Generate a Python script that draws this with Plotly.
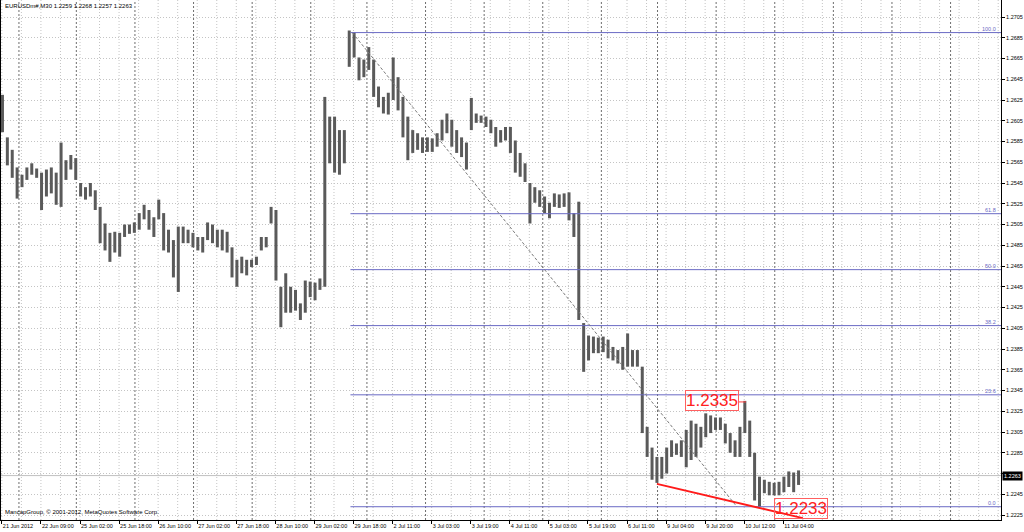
import plotly.graph_objects as go

# ---------------- data (EURUSD M30, 2-hour blocks of 4 bars) ----------------
highs = [
    1.2630, 1.2589, 1.2577, 1.2560, 1.2553, 1.2560, 1.2564, 1.2559, 1.2555, 1.2558,
    1.2560, 1.2555, 1.2584, 1.2567, 1.2572, 1.2569, 1.2545, 1.2541, 1.2545, 1.2538,
    1.2522, 1.2506, 1.2497, 1.2498, 1.2497, 1.2505, 1.2505, 1.2507, 1.2516, 1.2524,
    1.2519, 1.2512, 1.2529, 1.2516, 1.2500, 1.2490, 1.2503, 1.2503, 1.2500, 1.2497,
    1.2493, 1.2493, 1.2507, 1.2505, 1.2500, 1.2500, 1.2498, 1.2483, 1.2471, 1.2474,
    1.2471, 1.2471, 1.2474, 1.2493, 1.2493, 1.2522, 1.2519, 1.2445, 1.2458, 1.2445,
    1.2442, 1.2429, 1.2451, 1.2450, 1.2449, 1.2453, 1.2628, 1.2609, 1.2609, 1.2596,
    1.2596, 1.2692, 1.2690, 1.2666, 1.2664, 1.2676, 1.2664, 1.2638, 1.2628, 1.2632,
    1.2666, 1.2647, 1.2628, 1.2609, 1.2596, 1.2593, 1.2589, 1.2589, 1.2588, 1.2593,
    1.2606, 1.2612, 1.2606, 1.2596, 1.2589, 1.2584, 1.2627, 1.2612, 1.2610, 1.2609,
    1.2606, 1.2599, 1.2596, 1.2599, 1.2599, 1.2586, 1.2574, 1.2564, 1.2545, 1.2541,
    1.2538, 1.2532, 1.2526, 1.2535, 1.2534, 1.2535, 1.2536, 1.2516, 1.2527, 1.2410,
    1.2398, 1.2397, 1.2396, 1.2397, 1.2394, 1.2387, 1.2384, 1.2387, 1.2400, 1.2384,
    1.2384, 1.2368, 1.2310, 1.2290, 1.2281, 1.2281, 1.2290, 1.2297, 1.2294, 1.2297,
    1.2307, 1.2316, 1.2313, 1.2310, 1.2323, 1.2321, 1.2319, 1.2319, 1.2313, 1.2304,
    1.2297, 1.2310, 1.2335, 1.2316, 1.2285, 1.2262, 1.2259, 1.2257, 1.2256, 1.2257,
    1.2262, 1.2267, 1.2266, 1.2268,
]
lows = [
    1.2594, 1.2562, 1.2550, 1.2530, 1.2541, 1.2548, 1.2553, 1.2550, 1.2519, 1.2532,
    1.2535, 1.2524, 1.2522, 1.2548, 1.2558, 1.2548, 1.2532, 1.2529, 1.2532, 1.2519,
    1.2487, 1.2480, 1.2469, 1.2478, 1.2474, 1.2493, 1.2496, 1.2497, 1.2500, 1.2510,
    1.2500, 1.2493, 1.2510, 1.2480, 1.2478, 1.2454, 1.2440, 1.2487, 1.2487, 1.2483,
    1.2480, 1.2478, 1.2490, 1.2487, 1.2483, 1.2480, 1.2478, 1.2454, 1.2445, 1.2458,
    1.2456, 1.2464, 1.2466, 1.2480, 1.2483, 1.2506, 1.2451, 1.2406, 1.2420, 1.2420,
    1.2422, 1.2413, 1.2420, 1.2435, 1.2432, 1.2442, 1.2445, 1.2564, 1.2555, 1.2553,
    1.2564, 1.2657, 1.2666, 1.2644, 1.2647, 1.2654, 1.2628, 1.2618, 1.2612, 1.2611,
    1.2625, 1.2615, 1.2589, 1.2567, 1.2574, 1.2577, 1.2574, 1.2575, 1.2575, 1.2580,
    1.2586, 1.2593, 1.2580, 1.2574, 1.2570, 1.2558, 1.2596, 1.2603, 1.2603, 1.2599,
    1.2593, 1.2580, 1.2584, 1.2586, 1.2574, 1.2555, 1.2551, 1.2546, 1.2506, 1.2526,
    1.2522, 1.2516, 1.2511, 1.2522, 1.2521, 1.2522, 1.2509, 1.2493, 1.2413, 1.2363,
    1.2374, 1.2381, 1.2381, 1.2382, 1.2376, 1.2374, 1.2371, 1.2365, 1.2368, 1.2368,
    1.2368, 1.2304, 1.2281, 1.2259, 1.2256, 1.2260, 1.2265, 1.2281, 1.2283, 1.2281,
    1.2271, 1.2278, 1.2281, 1.2290, 1.2300, 1.2304, 1.2307, 1.2307, 1.2294, 1.2285,
    1.2281, 1.2281, 1.2304, 1.2281, 1.2239, 1.2233, 1.2246, 1.2244, 1.2244, 1.2244,
    1.2247, 1.2252, 1.2247, 1.2254,
]
bars_per_block = 4

x_tick_labels = [
    "21 Jun 2012", "22 Jun 09:00", "25 Jun 02:00", "25 Jun 18:00", "26 Jun 10:00",
    "27 Jun 02:00", "27 Jun 18:00", "28 Jun 10:00", "29 Jun 02:00", "29 Jun 18:00",
    "2 Jul 11:00", "3 Jul 03:00", "3 Jul 19:00", "4 Jul 11:00", "5 Jul 03:00",
    "5 Jul 19:00", "6 Jul 11:00", "9 Jul 04:00", "9 Jul 20:00", "10 Jul 12:00",
    "11 Jul 04:00",
]
day_separator_bars = [15, 62, 110, 158, 206, 254, 300, 348, 396, 444, 492, 538,
                      586, 634, 682, 730, 778]

last_price = 1.2263
title_text = "EURUSDm#,M30 1.2259 1.2268 1.2257 1.2263"

fibo_anchor_bars = [288, 603]
fibo_anchor_prices = [1.2690, 1.2233]
fibo_ratios = [0.0, 0.236, 0.382, 0.5, 0.618, 1.0]
fibo_texts = ["0.0", "23.6", "38.2", "50.0", "61.8", "100.0"]

support_bars = [537.5, 657]
support_prices = [1.2255, 1.2222]

high_label_price = 1.2335
low_label_price = 1.2233

# ---------------- figure ----------------
X_MIN, X_MAX = 0.3, 819.3
Y_MIN, Y_MAX = 1.22202, 1.27214
FONT = "Liberation Sans"
FIB_COLOR = "#6a6ac4"

seg_x, seg_y = [], []
for i, (h, l) in enumerate(zip(highs, lows)):
    xb = bars_per_block * i + 1.5
    seg_x += [xb, xb, None]
    seg_y += [l, h, None]

fig = go.Figure()
fig.add_trace(go.Scatter(x=seg_x, y=seg_y, mode="lines",
                         line=dict(color="#5a5a5a", width=3),
                         hoverinfo="skip", showlegend=False))

shapes = []
# light vertical grid every 16 bars
v = 1
while v < X_MAX:
    shapes.append(dict(type="line", xref="x", yref="paper", x0=v, x1=v, y0=0, y1=1,
                       line=dict(color="#c4c4c4", width=1, dash="1px,2px"), layer="below"))
    v += 16
# day separators
for d in day_separator_bars:
    shapes.append(dict(type="line", xref="x", yref="paper", x0=d, x1=d, y0=0, y1=1,
                       line=dict(color="#6e6e6e", width=1, dash="2px,2px"), layer="below"))
# bid line
shapes.append(dict(type="line", xref="paper", yref="y", x0=0, x1=1,
                   y0=last_price, y1=last_price,
                   line=dict(color="#c0c0c0", width=1), layer="below"))

# fibonacci levels
hi, lo = fibo_anchor_prices
annotations = []
for r, t in zip(fibo_ratios, fibo_texts):
    p = lo + r * (hi - lo)
    shapes.append(dict(type="line", xref="x", yref="y", x0=fibo_anchor_bars[0] - 1.5, x1=X_MAX,
                       y0=p, y1=p, line=dict(color=FIB_COLOR, width=1)))
    annotations.append(dict(xref="paper", yref="y", x=0.997, y=p, text=t,
                            xanchor="right", yanchor="bottom", showarrow=False,
                            font=dict(family=FONT, size=5.5, color=FIB_COLOR), yshift=-1))
# fibo base dashed line
shapes.append(dict(type="line", xref="x", yref="y",
                   x0=fibo_anchor_bars[0], x1=fibo_anchor_bars[1],
                   y0=fibo_anchor_prices[0], y1=fibo_anchor_prices[1],
                   line=dict(color="#7a7a7a", width=1, dash="3px,2px")))
# red support line
shapes.append(dict(type="line", xref="x", yref="y",
                   x0=support_bars[0], x1=support_bars[1],
                   y0=support_prices[0], y1=support_prices[1],
                   line=dict(color="#ff1a1a", width=2)))
# short red tick to the high
shapes.append(dict(type="line", xref="x", yref="y", x0=604.7, x1=610.5,
                   y0=high_label_price - 0.0001, y1=high_label_price - 0.0001,
                   line=dict(color="#ff4040", width=1)))

# red price labels
annotations.append(dict(xref="x", yref="y", x=604.7, y=high_label_price,
                        text=f"{high_label_price:.4f}", xanchor="right", yanchor="middle",
                        showarrow=False, font=dict(family=FONT, size=17, color="#ff2020"),
                        bordercolor="#ff6060", borderwidth=1, borderpad=0))
annotations.append(dict(xref="x", yref="y", x=633.4, y=low_label_price - 0.00015,
                        text=f"{low_label_price:.4f}", xanchor="left", yanchor="middle",
                        showarrow=False, font=dict(family=FONT, size=17, color="#ff2020"),
                        bordercolor="#ff6060", borderwidth=1, borderpad=0))
# title
annotations.append(dict(xref="paper", yref="paper", x=0.002, y=1, yshift=-1,
                        text=title_text, xanchor="left", yanchor="top", showarrow=False,
                        font=dict(family=FONT, size=6, color="#000000")))
# copyright
annotations.append(dict(xref="paper", yref="paper", x=0.002, y=0.0, yshift=3,
                        text="MancapGroup, © 2001-2012, MetaQuotes Software Corp.",
                        xanchor="left", yanchor="bottom", showarrow=False,
                        font=dict(family=FONT, size=6, color="#000000")))
# current price box
annotations.append(dict(xref="paper", yref="y", x=1, xshift=1, y=last_price,
                        text=f"{last_price:.4f}", xanchor="left", yanchor="middle",
                        showarrow=False, bgcolor="#000000", borderpad=1,
                        font=dict(family=FONT, size=5.5, color="#ffffff")))

y_ticks = [round(1.2225 + 0.002 * k, 4) for k in range(25)]
y_text = ["" if abs(t - 1.2265) < 1e-9 else f"{t:.4f}" for t in y_ticks]
x_ticks = [32 * k + 1 for k in range(len(x_tick_labels))]

fig.update_layout(
    width=1024, height=532,
    margin=dict(l=1, r=23, t=0, b=12),
    paper_bgcolor="#ffffff", plot_bgcolor="#ffffff",
    shapes=shapes, annotations=annotations,
    showlegend=False,
    font=dict(family=FONT, size=6, color="#000000"),
    xaxis=dict(range=[X_MIN, X_MAX], showgrid=False, zeroline=False,
               showline=True, linecolor="#000000", linewidth=1,
               tickmode="array", tickvals=x_ticks, ticktext=x_tick_labels,
               ticks="outside", ticklen=3, tickcolor="#000000", tickangle=0,
               ticklabelposition="outside right",
               tickfont=dict(family=FONT, size=5.5, color="#000000")),
    yaxis=dict(range=[Y_MIN, Y_MAX], side="right", showgrid=True,
               gridcolor="#c4c4c4", griddash="1px,2px", zeroline=False,
               showline=True, mirror=True, linecolor="#000000", linewidth=1,
               tickmode="array", tickvals=y_ticks, ticktext=y_text,
               ticks="outside", ticklen=3, tickcolor="#000000",
               tickfont=dict(family=FONT, size=5.5, color="#000000")),
)

fig.write_html("out.html", config={"displayModeBar": False},
               post_script="document.body.style.margin='0';document.body.style.overflow='hidden';")
